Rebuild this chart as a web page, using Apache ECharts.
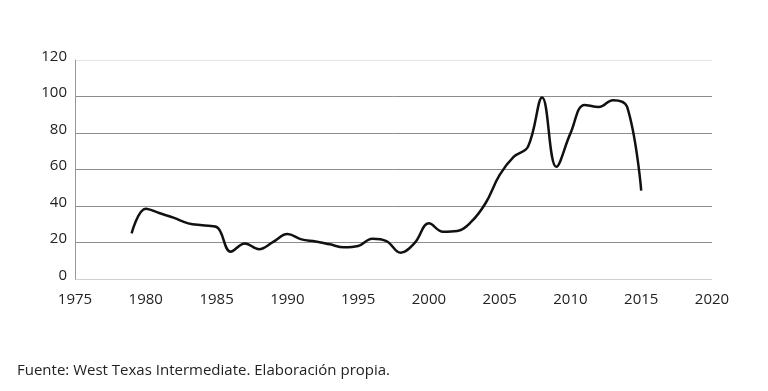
<!DOCTYPE html>
<html>
<head>
<meta charset="utf-8">
<script src="https://cdn.jsdelivr.net/npm/echarts@6/dist/echarts.min.js"></script>
<style>
html,body{margin:0;padding:0;background:#fff;}
#chart{width:768px;height:391px;}
</style>
</head>
<body>
<div id="chart"></div>
<script>
var years = [1979,1980,1981,1982,1983,1984,1985,1986,1987,1988,1989,1990,1991,1992,1993,1994,1995,1996,1997,1998,1999,2000,2001,2002,2003,2004,2005,2006,2007,2008,2009,2010,2011,2012,2013,2014,2015];
var prices = [25,38.5,36,33.5,30.5,29.4,28.5,15,19.5,16.3,20.3,24.6,21.7,20.6,19,17.4,18.1,22.1,20.8,14.4,19.8,30.5,25.9,26.3,31.4,41.5,57,67,72.5,99.5,61.5,79.8,95.4,94.2,98,94.4,48.4];
var yTicks = [0,20,40,60,80,100,120];
var xTicks = [1975,1980,1985,1990,1995,2000,2005,2010,2015,2020];
var sourceText = 'Fuente: West Texas Intermediate. Elaboración propia.';

var chart = echarts.init(document.getElementById('chart'));
var data = years.map(function(y,i){return [y, prices[i]];});
var font = '"Open Sans", "Noto Sans", sans-serif';
chart.setOption({
  animation:false,
  backgroundColor:'#fff',
  grid:{left:75,right:56,top:60,bottom:112,containLabel:false},
  graphic:[{type:'text',left:17,top:363,style:{text:sourceText,font:'15px '+font,fill:'#222'}}],
  xAxis:{type:'value',min:xTicks[0],max:xTicks[xTicks.length-1],interval:5,
    axisLine:{show:false},axisTick:{show:false},splitLine:{show:false},
    axisLabel:{color:'#222',fontSize:15,fontFamily:font,margin:13,
      formatter:function(v){return xTicks.indexOf(v)>=0?String(v):'';}}},
  yAxis:{type:'value',min:yTicks[0],max:yTicks[yTicks.length-1],interval:20,
    axisLine:{show:true,lineStyle:{color:'#999',width:1}},axisTick:{show:false},
    axisLabel:{color:'#222',fontSize:15,fontFamily:font,margin:8,verticalAlign:'bottom',padding:[0,0,-4,0]},
    splitLine:{show:true,lineStyle:{color:['#d0d0d0','#8c8c8c','#8c8c8c','#8c8c8c','#8c8c8c','#8c8c8c','#e6e6e6'],width:1}}},
  series:[{type:'line',data:data,smooth:0.4,showSymbol:false,
    lineStyle:{color:'#111',width:2.5},z:5}]
});
</script>
</body>
</html>
